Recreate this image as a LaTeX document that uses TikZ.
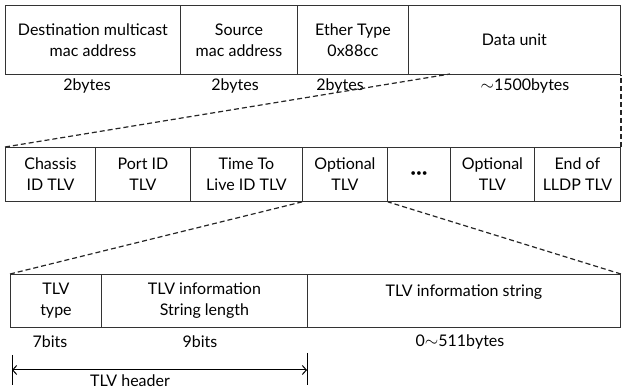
\documentclass[tikz,border=0pt]{standalone}
\usepackage{fontspec}
\setmainfont{Lato}
\usetikzlibrary{arrows.meta}
\begin{document}
\begin{tikzpicture}[x=1pt, y=-1pt,
    cell/.style={draw=black!80, line width=0.9pt, inner sep=0pt, anchor=north west, align=center, font=\fontsize{16}{21}\selectfont},
    lbl/.style={inner sep=0pt, font=\fontsize{16}{19}\selectfont},
    cut/.style={black!85, line width=1.2pt, dash pattern=on 5pt off 3pt}]

    \useasboundingbox (0,0) rectangle (622,390);

    \node[cell, minimum width=175pt, minimum height=69pt] (dst) at (5,5) {Destination multicast\\mac address};
    \node[cell, minimum width=117pt, minimum height=69pt] (src) at (180,5) {Source\\mac address};
    \node[cell, minimum width=111pt, minimum height=69pt] (eth) at (297,5) {Ether Type\\0x88cc};
    \node[cell, minimum width=212pt, minimum height=69pt] (data) at (408,5) {Data unit};

    \node[lbl] (bdst) at (87,86) {2bytes};
    \node[lbl] (bsrc) at (235,86) {2bytes};
    \node[lbl] (beth) at (340,86) {2bytes};
    \node[lbl] (bdata) at (525,86) {$\sim$1500bytes};

    \node[cell, minimum width=90pt, minimum height=54pt] (chassis) at (5,147) {Chassis\\ID TLV};
    \node[cell, minimum width=95pt, minimum height=54pt] (port) at (95,147) {Port ID\\TLV};
    \node[cell, minimum width=112pt, minimum height=54pt] (ttl) at (190,147) {Time To\\Live ID TLV};
    \node[cell, minimum width=85pt, minimum height=54pt] (opta) at (302,147) {Optional\\TLV};
    \node[cell, minimum width=63pt, minimum height=54pt] (dots) at (387,147) {{\fontsize{10}{10}\selectfont\textbullet\textbullet\textbullet}};
    \node[cell, minimum width=84pt, minimum height=54pt] (optb) at (450,147) {Optional\\TLV};
    \node[cell, minimum width=86pt, minimum height=54pt] (lldpend) at (534,147) {End of\\LLDP TLV};

    \node[cell, minimum width=91pt, minimum height=53pt] (type) at (10,274) {TLV\\type};
    \node[cell, minimum width=206pt, minimum height=53pt] (len) at (101,274) {TLV information\\String length};
    \node[cell, minimum width=313pt, minimum height=53pt] (str) at (307,274) {TLV information string\\\mbox{}};

    \node[lbl] (btype) at (50,342) {7bits};
    \node[lbl] (blen) at (200,342) {9bits};
    \node[lbl] (bstr) at (460,342) {0$\sim$511bytes};

    \coordinate (cutin) at (450,74);
    \coordinate (hla) at (12,355);
    \coordinate (hlb) at (12,385);
    \coordinate (hra) at (307,353);
    \coordinate (hrb) at (307,385);
    \coordinate (hl) at (12,370);
    \coordinate (hr) at (307,370);

    \draw[cut] (chassis.north west) -- (cutin);
    \draw[cut] (lldpend.north east) -- (data.south east);
    \draw[cut] (type.north west) -- (opta.south west);
    \draw[cut] (str.north east) -- (opta.south east);

    \draw[line width=1pt] (hla) -- (hlb);
    \draw[line width=1pt] (hra) -- (hrb);
    \draw[line width=1pt, {Straight Barb[length=4pt,width=9pt]}-{Straight Barb[length=4pt,width=9pt]}] (hl) -- (hr);
    \node[lbl] (hdr) at (130,381) {TLV header};

\end{tikzpicture}
\end{document}
